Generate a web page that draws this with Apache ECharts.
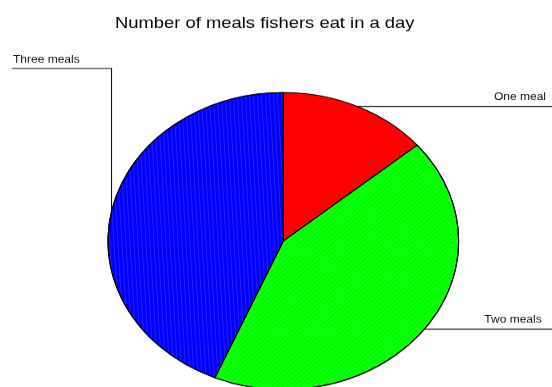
<!DOCTYPE html>
<html>
<head>
<meta charset="utf-8">
<script src="https://cdn.jsdelivr.net/npm/echarts@6/dist/echarts.min.js"></script>
<style>
  html, body { margin: 0; padding: 0; background: #fff; }
  #frame { width: 552px; height: 387px; overflow: hidden; position: relative; }
  /* the chart is laid out round, then squeezed vertically into an oval */
  #chart { width: 552px; height: 457px; transform: scaleY(0.84683); transform-origin: 0 0; }
</style>
</head>
<body>
<div id="frame"><div id="chart"></div></div>
<script>
// Number of meals per day
const categories = ['One meal', 'Two meals', 'Three meals'];
const counts = [13, 40, 41];
const sliceColors = ['#ff0000', '#00ff00', '#0000ff'];
const titleText = 'Number of meals fishers eat in a day';

const FONT = '"Liberation Sans", Arial, Helvetica, sans-serif';

// fine hatch lines inside the green and blue slices
const hatch = [
  null,
  { symbol: 'rect', symbolSize: 1, dashArrayX: [1, 0], dashArrayY: [1, 3], rotation: -Math.PI / 4, color: 'rgba(255,255,255,0.12)' },
  { symbol: 'rect', symbolSize: 1, dashArrayX: [1, 0], dashArrayY: [1, 3], rotation: Math.PI / 2 - 0.05, color: 'rgba(255,255,255,0.12)' }
];

const data = categories.map((name, i) => ({
  name: name,
  value: counts[i],
  itemStyle: hatch[i] ? { color: sliceColors[i], decal: hatch[i] } : { color: sliceColors[i] }
}));

const TOP_RULE_Y = 80.7;   // horizontal rule above the pie on the left
const RIGHT_EDGE = 552;

const chart = echarts.init(document.getElementById('chart'), null, { renderer: 'canvas' });

// point on the rim at the middle of a slice, from the pie's own layout
function rimPoint(idx) {
  const series = chart.getModel().getSeriesByIndex(0);
  const lay = series.getData().getItemLayout(idx);
  const mid = (lay.startAngle + lay.endAngle) / 2;
  return [lay.cx + lay.r * Math.cos(mid), lay.cy + lay.r * Math.sin(mid)];
}

chart.setOption({
  animation: false,
  backgroundColor: '#ffffff',
  title: {
    text: titleText,
    left: 110,
    top: 13.5,
    textStyle: { fontFamily: FONT, fontSize: 18.4, fontWeight: 'normal', color: '#000' }
  },
  series: [{
    type: 'pie',
    center: [283.3, 284.6],
    radius: 175.3,
    startAngle: 90,
    clockwise: true,
    avoidLabelOverlap: false,
    data: data,
    itemStyle: { borderColor: '#000', borderWidth: 1.1 },
    label: {
      show: true,
      position: 'outer',
      alignTo: 'none',
      formatter: '{b}',
      fontFamily: FONT,
      fontSize: 12,
      color: '#111'
    },
    labelLine: {
      show: true,
      length: 10,
      length2: 10,
      lineStyle: { color: '#111', width: 1.1 }
    },
    emphasis: { disabled: true },
    labelLayout: function (p) {
      const p0 = rimPoint(p.dataIndex);
      if (p.dataIndex === 0) {
        return {
          x: 546, y: p0[1] - 10.5, align: 'right', verticalAlign: 'middle',
          labelLinePoints: [p0, [(p0[0] + RIGHT_EDGE) / 2, p0[1]], [RIGHT_EDGE, p0[1]]]
        };
      }
      if (p.dataIndex === 1) {
        return {
          x: 541.7, y: p0[1] - 10.5, align: 'right', verticalAlign: 'middle',
          labelLinePoints: [p0, [(p0[0] + RIGHT_EDGE) / 2, p0[1]], [RIGHT_EDGE, p0[1]]]
        };
      }
      return {
        x: 13, y: TOP_RULE_Y - 10.5, align: 'left', verticalAlign: 'middle',
        labelLinePoints: [p0, [p0[0], TOP_RULE_Y], [12, TOP_RULE_Y]]
      };
    }
  }]
});
</script>
</body>
</html>
